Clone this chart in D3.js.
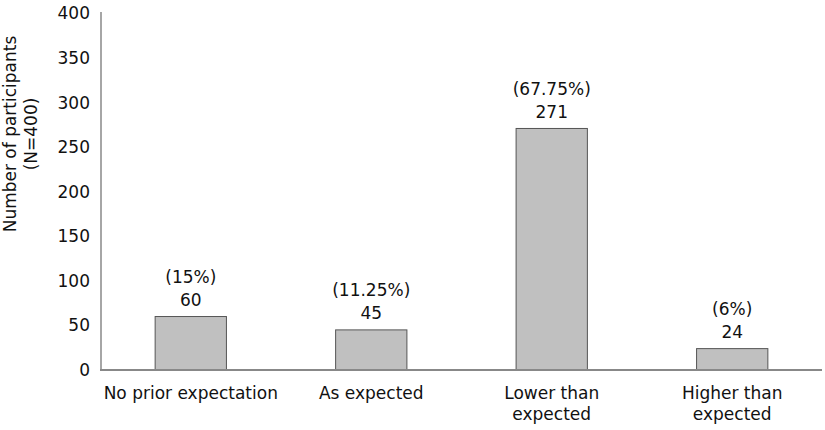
<!DOCTYPE html>
<html><head><meta charset="utf-8">
<script src="https://cdn.jsdelivr.net/npm/d3@7"></script>
<style>body{margin:0;background:#fff}svg{display:block}text{font-family:"DejaVu Sans",sans-serif;fill:#111}</style>
</head><body><svg id="c" width="825" height="430"></svg>
<script>
const categories = [["No prior expectation"], ["As expected"], ["Lower than", "expected"], ["Higher than", "expected"]];
const counts = [60, 45, 271, 24];
const percents = ["(15%)", "(11.25%)", "(67.75%)", "(6%)"];
const yTicks = [0, 50, 100, 150, 200, 250, 300, 350, 400];
const yTitle = ["Number of participants", "(N=400)"];

const svg = d3.select("#c");
const keys = categories.map((c, i) => i);
const x = d3.scaleBand().domain(keys).range([101, 822]).paddingInner(0.605).paddingOuter(0.3);
const y = d3.scaleLinear().domain([0, 400]).range([370, 13.5]);
const fs = 17;

// bars
svg.selectAll("rect.bar").data(counts).join("rect")
  .attr("class", "bar")
  .attr("x", (d, i) => x(i))
  .attr("y", d => y(d))
  .attr("width", x.bandwidth())
  .attr("height", d => y(0) - y(d))
  .attr("fill", "#c0c0c0").attr("stroke", "#555").attr("stroke-width", 1);

// y axis
const yAx = svg.append("g").attr("transform", "translate(101,0)")
  .call(d3.axisLeft(y).tickValues(yTicks).tickSize(0).tickPadding(11));
yAx.select(".domain").attr("stroke", "#888").attr("stroke-width", 1.5)
  .attr("d", `M0,${y(400) - 1.5}V${y(0)}`);
yAx.selectAll("text").attr("font-size", fs).attr("font-family", "DejaVu Sans").attr("fill", "#111");

// x axis
const xAx = svg.append("g").attr("transform", `translate(0,${y(0)})`)
  .call(d3.axisBottom(x).tickSize(0).tickFormat(""));
xAx.select(".domain").attr("stroke", "#888").attr("stroke-width", 2)
  .attr("d", "M100,0H822");

// category labels
const cl = svg.selectAll("text.cat").data(categories).join("text")
  .attr("class", "cat").attr("text-anchor", "middle").attr("font-size", fs)
  .attr("x", (d, i) => x(i) + x.bandwidth() / 2)
  .attr("y", y(0) + 29);
cl.selectAll("tspan").data(d => d).join("tspan")
  .attr("x", function () { return d3.select(this.parentNode).attr("x"); })
  .attr("dy", (d, j) => j === 0 ? 0 : 21)
  .text(d => d);

// value labels
svg.selectAll("text.val").data(counts).join("text")
  .attr("class", "val").attr("text-anchor", "middle").attr("font-size", fs)
  .attr("x", (d, i) => x(i) + x.bandwidth() / 2)
  .attr("y", d => y(d) - 10.5)
  .text(d => d);
svg.selectAll("text.pct").data(percents).join("text")
  .attr("class", "pct").attr("text-anchor", "middle").attr("font-size", fs)
  .attr("x", (d, i) => x(i) + x.bandwidth() / 2)
  .attr("y", (d, i) => y(counts[i]) - 33.5)
  .text(d => d);

// y title
const yt = svg.append("text").attr("text-anchor", "middle").attr("font-size", fs)
  .attr("transform", "translate(16,134) rotate(-90)");
yt.selectAll("tspan").data(yTitle).join("tspan")
  .attr("x", 0).attr("dy", (d, j) => j === 0 ? 0 : 21).text(d => d);
</script></body></html>
